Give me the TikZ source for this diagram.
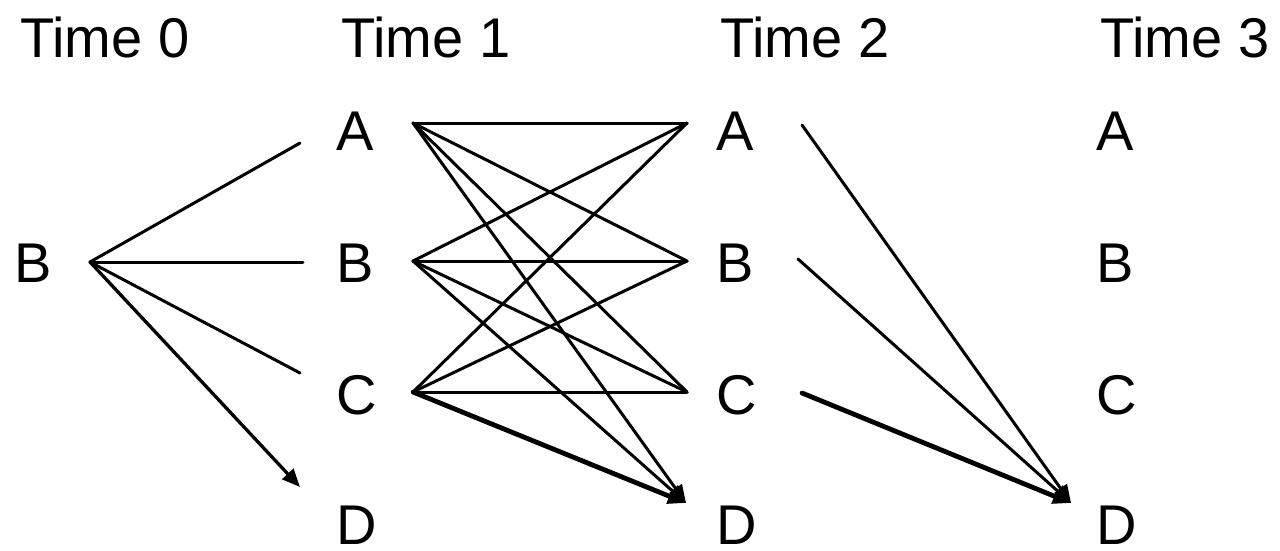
\documentclass[tikz,border=0pt]{standalone}
\usepackage{fontspec}
\setmainfont{Liberation Sans}
\usetikzlibrary{arrows.meta}
\begin{document}
\begin{tikzpicture}[x=1pt,y=-1pt,
  lbl/.style={anchor=base west,inner sep=0pt,text depth=0pt,font=\fontsize{56}{60}\selectfont},
  edge/.style={line width=3pt,line cap=round},
  heavy/.style={line width=4.8pt,line cap=round},
  arr/.style={-{Triangle[length=18pt,width=15pt]}}]
\useasboundingbox (0,0) rectangle (1280,550);
% headers
\node[lbl] (t0) at (20,57) {Time 0};
\node[lbl] (t1) at (341,57) {Time 1};
\node[lbl] (t2) at (720,57) {Time 2};
\node[lbl] (t3) at (1100,57) {Time 3};
% letters
\node[lbl] (b0) at (14,282) {B};
\foreach \c/\x in {1/336,2/716,3/1096}{
  \node[lbl] (a\c) at (\x,150) {A};
  \node[lbl] (b\c) at (\x,282) {B};
  \node[lbl] (c\c) at (\x,414) {C};
  \node[lbl] (d\c) at (\x,544) {D};
}
% connector end points
\coordinate (s0) at (90,262);
\coordinate (e0A) at (300,143);
\coordinate (e0B) at (303,262);
\coordinate (e0C) at (300,373);
\coordinate (e0D) at (300,487);
\coordinate (L1A) at (413,123);
\coordinate (L1B) at (413,261);
\coordinate (L1C) at (413,392);
\coordinate (R2A) at (687,123);
\coordinate (R2B) at (687,261);
\coordinate (R2C) at (687,392);
\coordinate (R2D) at (686,503);
\coordinate (S2A) at (802,125);
\coordinate (S2B) at (798,259);
\coordinate (S2C) at (802,393);
\coordinate (T3D) at (1071,503);
% time 0 -> time 1
\draw[edge] (s0) -- (e0A);
\draw[edge] (s0) -- (e0B);
\draw[edge] (s0) -- (e0C);
\draw[edge,line width=3.3pt,arr] (s0) -- (e0D);
% time 1 -> time 2
\foreach \p in {A,B,C}{
  \foreach \q in {A,B,C}{
    \draw[edge] (L1\p) -- (R2\q);
  }
}
\draw[edge,arr] (L1A) -- (R2D);
\draw[edge,arr] (L1B) -- (R2D);
\draw[heavy,arr] (L1C) -- (R2D);
% time 2 -> time 3
\draw[edge,arr] (S2A) -- (T3D);
\draw[edge,arr] (S2B) -- (T3D);
\draw[heavy,arr] (S2C) -- (T3D);
\end{tikzpicture}
\end{document}
